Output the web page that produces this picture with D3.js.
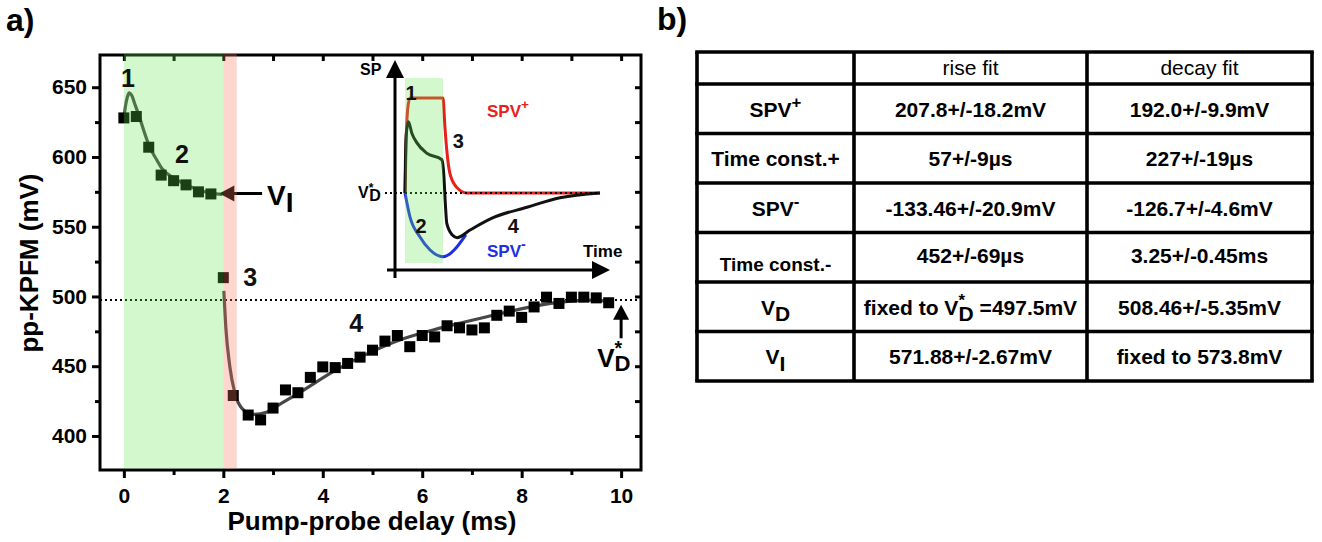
<!doctype html>
<html lang="en">
<head>
<meta charset="utf-8">
<title>pp-KPFM transient and fit table</title>
<script src="https://cdn.jsdelivr.net/npm/d3@7"></script>
<style>
  body { margin: 0; background: #fff; }
  svg { display: block; font-family: "Liberation Sans", Arial, sans-serif; font-weight: bold; }
</style>
</head>
<body>
<svg id="fig" width="1322" height="542"></svg>
<script>
// ---- data ----
var xTicks = [0, 2, 4, 6, 8, 10];
var xMinor = [1, 3, 5, 7, 9];
var yTicks = [400, 450, 500, 550, 600, 650];
var yMinor = [425, 475, 525, 575, 625];

// measured points (delay in ms, potential in mV)
var delay = [0, 0.25, 0.5, 0.75, 1.0, 1.25, 1.5, 1.75, 2.0, 2.2,
             2.5, 2.75, 3.0, 3.25, 3.5, 3.75, 4.0, 4.25, 4.5, 4.75,
             5.0, 5.25, 5.5, 5.75, 6.0, 6.25, 6.5, 6.75, 7.0, 7.25,
             7.5, 7.75, 8.0, 8.25, 8.5, 8.75, 9.0, 9.25, 9.5, 9.75];
var kpfm  = [628, 629, 607, 587, 583, 580, 575, 573.5, 513.5, 429,
             415, 411.5, 420, 433, 431, 442, 449.5, 449, 452, 456.5,
             461.5, 468, 472, 464, 472, 471, 479, 477.5, 476, 477.5,
             486.5, 489.5, 485, 492.5, 499.5, 495, 499.5, 499.5, 499, 495.5];

// fit curves as traced
var riseFit = [[0, 627], [0.03, 636], [0.07, 643], [0.11, 646], [0.16, 644], [0.22, 638],
               [0.3, 630], [0.4, 619], [0.52, 607], [0.66, 598], [0.76, 592], [1.0, 585],
               [1.26, 580], [1.53, 576], [1.86, 573.5], [1.98, 573.2]];
var decayFit = [[2.01, 504], [2.05, 478], [2.13, 450], [2.23, 431], [2.37, 420], [2.6, 415.5],
                [2.87, 417], [3.1, 422], [3.55, 431.5], [4.2, 446], [4.9, 459], [5.56, 469],
                [6.22, 476], [6.77, 481], [7.3, 485.5], [7.7, 488.8], [8.37, 493.8],
                [9.04, 496.8], [9.4, 497.4], [9.75, 496.5]];

var vDstar = 497.5;
var vI = 573.8;
var pumpBand = [0, 2.0];
var probeBand = [2.0, 2.27];

// inset sketch (time in pulse lengths, signal in % of SPV+)
var insetPlus  = [[0, 0], [0.03, 55], [0.07, 88], [0.13, 100], [1.0, 100], [1.05, 70], [1.1, 45],
                  [1.18, 21], [1.36, 6], [1.63, 0], [5.13, 0]];
var insetMinus = [[0, 0], [0.13, -25], [0.39, -46], [0.66, -60], [1.0, -67], [1.6, -44]];
var insetSum   = [[0, 0], [0.01, 30], [0.03, 60], [0.09, 75], [0.18, 63], [0.31, 53], [0.57, 42],
                  [0.97, 35], [1.02, 20], [1.06, -10], [1.1, -32], [1.24, -44], [1.37, -47],
                  [1.71, -39], [2.32, -26], [3.21, -15], [4.08, -5], [5.13, 0]];

// table b)
var tableHead = ["", "rise fit", "decay fit"];
var rowLabels = ["SPV^{+}", "Time const.+", "SPV^{-}", "Time const.-", "V_{D}", "V_{I}"];
var riseVals  = ["207.8+/-18.2mV", "57+/-9\u00b5s", "-133.46+/-20.9mV", "452+/-69\u00b5s",
                 "fixed to V^{*}_{D} =497.5mV", "571.88+/-2.67mV"];
var decayVals = ["192.0+/-9.9mV", "227+/-19\u00b5s", "-126.7+/-4.6mV", "3.25+/-0.45ms",
                 "508.46+/-5.35mV", "fixed to 573.8mV"];

// ---- drawing ----
var svg = d3.select("#fig");
svg.append("rect").attr("width", 1322).attr("height", 542).attr("fill", "#fff");

// text with ^{sup} and _{sub} pieces
function rich(t, str, size, opt) {
  opt = opt || {};
  var supK = opt.supK || 0.72, supUp = opt.supUp || 0.42, subDown = opt.subDown || 0.33;
  var subK = opt.subK || 1, back = opt.back || 0.38;
  var parts = str.split(/(\^\{[^}]*\}|_\{[^}]*\})/).filter(function(s) { return s.length; });
  var shift = 0, prevSup = false;
  parts.forEach(function(p) {
    var sp = t.append("tspan");
    if (p.indexOf("^{") == 0) {
      sp.text(p.slice(2, -1)).attr("font-size", size * supK).attr("dy", -size * supUp - shift);
      shift = -size * supUp; prevSup = true;
    } else if (p.indexOf("_{") == 0) {
      sp.text(p.slice(2, -1)).attr("font-size", size * subK).attr("dy", size * subDown - shift);
      if (prevSup) sp.attr("dx", -size * back);
      shift = size * subDown; prevSup = false;
    } else {
      sp.text(p).attr("dy", -shift);
      shift = 0; prevSup = false;
    }
  });
}

// panel letters
svg.append("text").attr("x", 6).attr("y", 31).attr("font-size", 32).text("a)");
svg.append("text").attr("x", 657).attr("y", 30).attr("font-size", 32).text("b)");

var x = d3.scaleLinear().domain([-0.48, 10.4]).range([100, 641]);
var y = d3.scaleLinear().domain([375.6, 673.1]).range([470, 55]);

var plot = svg.append("g");

// dotted V*D level
plot.append("line")
  .attr("x1", x.range()[0]).attr("x2", x.range()[1])
  .attr("y1", y(vDstar)).attr("y2", y(vDstar))
  .attr("stroke", "#000").attr("stroke-width", 2).attr("stroke-dasharray", "2,3");

var fitLine = d3.line().x(function(d) { return x(d[0]); }).y(function(d) { return y(d[1]); })
  .curve(d3.curveMonotoneX);
[riseFit, decayFit].forEach(function(f) {
  plot.append("path").attr("d", fitLine(f)).attr("fill", "none")
    .attr("stroke", "#474747").attr("stroke-width", 3.2);
});

plot.selectAll("rect.pt").data(delay).enter().append("rect")
  .attr("class", "pt")
  .attr("x", function(d) { return x(d) - 5.5; })
  .attr("y", function(d, i) { return y(kpfm[i]) - 5.5; })
  .attr("width", 11).attr("height", 11).attr("fill", "#000");

// arrows
function arrowHead(g, tipX, tipY, dir, len, half) {
  var pts;
  if (dir == "left") pts = [[tipX, tipY], [tipX + len, tipY - half], [tipX + len, tipY + half]];
  else pts = [[tipX, tipY], [tipX - half, tipY + len], [tipX + half, tipY + len]];
  g.append("polygon").attr("points", pts.map(function(p) { return p.join(","); }).join(" "))
    .attr("fill", "#000");
}
plot.append("line").attr("x1", x(1.92) + 12).attr("x2", x(2.78))
  .attr("y1", y(vI)).attr("y2", y(vI)).attr("stroke", "#000").attr("stroke-width", 3);
arrowHead(plot, x(1.92), y(vI), "left", 15, 8);
plot.append("line").attr("x1", x(10)).attr("x2", x(10))
  .attr("y1", y(494) + 12).attr("y2", y(470)).attr("stroke", "#000").attr("stroke-width", 3);
arrowHead(plot, x(10), y(494), "up", 15, 8);

// frame and axes
plot.append("rect").attr("x", 100).attr("y", 55).attr("width", 541).attr("height", 415)
  .attr("fill", "none").attr("stroke", "#000").attr("stroke-width", 3);

function styleAxis(g, fs) {
  g.select(".domain").remove();
  g.selectAll(".tick line").attr("stroke", "#000").attr("stroke-width", 3);
  g.selectAll(".tick text").attr("font-size", fs).attr("font-family", null)
    .attr("font-weight", "bold").attr("fill", "#000");
}
plot.append("g").attr("transform", "translate(0,470)")
  .call(d3.axisBottom(x).tickValues(xTicks).tickSize(8).tickPadding(10).tickSizeOuter(0))
  .call(styleAxis, 21);
plot.append("g").attr("transform", "translate(0,470)")
  .call(d3.axisBottom(x).tickValues(xMinor).tickSize(5).tickFormat("").tickSizeOuter(0))
  .call(styleAxis, 21);
plot.append("g").attr("transform", "translate(100,0)")
  .call(d3.axisLeft(y).tickValues(yTicks).tickSize(8).tickPadding(5).tickSizeOuter(0))
  .call(styleAxis, 21);
plot.append("g").attr("transform", "translate(100,0)")
  .call(d3.axisLeft(y).tickValues(yMinor).tickSize(5).tickFormat("").tickSizeOuter(0))
  .call(styleAxis, 21);
plot.append("g").attr("transform", "translate(0,55)")
  .call(d3.axisTop(x).tickValues(xTicks.concat(xMinor)).tickSize(-6).tickFormat("").tickSizeOuter(0))
  .call(styleAxis, 21);
plot.append("g").attr("transform", "translate(641,0)")
  .call(d3.axisRight(y).tickValues(yTicks.concat(yMinor)).tickSize(-6).tickFormat("").tickSizeOuter(0))
  .call(styleAxis, 21);

// translucent pump / probe bands over the data
plot.append("rect").attr("x", x(pumpBand[0])).attr("width", x(pumpBand[1]) - x(pumpBand[0]))
  .attr("y", 53.5).attr("height", 415).attr("fill", "rgb(100,230,80)").attr("fill-opacity", 0.28);
plot.append("rect").attr("x", x(probeBand[0])).attr("width", x(probeBand[1]) - x(probeBand[0]))
  .attr("y", 53.5).attr("height", 415).attr("fill", "rgb(250,120,90)").attr("fill-opacity", 0.3);

// axis titles
svg.append("text").attr("x", 372).attr("y", 530).attr("text-anchor", "middle")
  .attr("font-size", 26).text("Pump-probe delay (ms)");
svg.append("text").attr("transform", "translate(38,263) rotate(-90)").attr("text-anchor", "middle")
  .attr("font-size", 26).text("pp-KPFM (mV)");

// stage labels
[["1", 0.08, 650], ["2", 1.17, 596], ["3", 2.54, 507.5], ["4", 4.67, 474.5]].forEach(function(l) {
  plot.append("text").attr("x", x(l[1])).attr("y", y(l[2])).attr("text-anchor", "middle")
    .attr("font-size", 25).attr("fill", "#111").text(l[0]);
});
var tVI = plot.append("text").attr("x", x(2.88)).attr("y", y(565.5)).attr("font-size", 28);
rich(tVI, "V_{I}", 28, { subDown: 0.25 });
var tVD = plot.append("text").attr("x", x(9.52)).attr("y", y(449.5)).attr("font-size", 26);
rich(tVD, "V^{*}_{D}", 26, { supK: 0.75, supUp: 0.45, subK: 0.85, subDown: 0.14, back: 0.3 });

// ---- inset ----
var ix = d3.scaleLinear().domain([0, 1]).range([405, 443]);
var iy = d3.scaleLinear().domain([0, 100]).range([193, 98]);
var ins = svg.append("g");
var iLine = d3.line().x(function(d) { return ix(d[0]); }).y(function(d) { return iy(d[1]); })
  .curve(d3.curveMonotoneX);

ins.append("path").attr("d", iLine(insetPlus)).attr("fill", "none")
  .attr("stroke", "#e8201a").attr("stroke-width", 3);
ins.append("path").attr("d", iLine(insetMinus)).attr("fill", "none")
  .attr("stroke", "#1c2fe6").attr("stroke-width", 3);
ins.append("path").attr("d", iLine(insetSum)).attr("fill", "none")
  .attr("stroke", "#111").attr("stroke-width", 3);
ins.append("line").attr("x1", 385).attr("x2", 600).attr("y1", iy(0)).attr("y2", iy(0))
  .attr("stroke", "#000").attr("stroke-width", 2).attr("stroke-dasharray", "2,3");

// inset axes with arrows
ins.append("line").attr("x1", 395).attr("x2", 395).attr("y1", 278).attr("y2", 76)
  .attr("stroke", "#000").attr("stroke-width", 3);
arrowHead(ins, 395, 60, "up", 18, 9);
ins.append("line").attr("x1", 387).attr("x2", 594).attr("y1", 270).attr("y2", 270)
  .attr("stroke", "#000").attr("stroke-width", 3);
ins.append("polygon").attr("points", "610,270 592,261 592,279").attr("fill", "#000");

ins.append("rect").attr("x", ix(0)).attr("width", ix(1) - ix(0)).attr("y", 78).attr("height", 185)
  .attr("fill", "rgb(100,230,80)").attr("fill-opacity", 0.28);

ins.append("text").attr("x", 360).attr("y", 75).attr("font-size", 16).text("SP");
ins.append("text").attr("x", 583).attr("y", 257).attr("font-size", 17).text("Time");
var tIV = ins.append("text").attr("x", 358).attr("y", 198).attr("font-size", 16);
rich(tIV, "V^{*}_{D}", 16, { supK: 0.75, supUp: 0.4, subDown: 0.2, back: 0.25 });
[["1", 0.16, 100 - 2], ["2", 0.42, -42], ["3", 1.4, 47.5], ["4", 2.85, -42]].forEach(function(l) {
  ins.append("text").attr("x", ix(l[1])).attr("y", iy(l[2])).attr("text-anchor", "middle")
    .attr("font-size", 20).attr("fill", "#111").text(l[0]);
});
var tP = ins.append("text").attr("x", 487).attr("y", 117).attr("font-size", 17).attr("fill", "#e8201a");
rich(tP, "SPV^{+}", 17, { supK: 0.8, supUp: 0.5 });
var tM = ins.append("text").attr("x", 487).attr("y", 257).attr("font-size", 17).attr("fill", "#1c2fe6");
rich(tM, "SPV^{-}", 17, { supK: 0.85, supUp: 0.45 });

// ---- table ----
var colX = [697, 854, 1087, 1312];
var rowY = [52, 84, 133.5, 183, 232.5, 282, 331.5, 381];
var tb = svg.append("g");
colX.forEach(function(cx) {
  tb.append("line").attr("x1", cx).attr("x2", cx).attr("y1", rowY[0]).attr("y2", rowY[rowY.length - 1])
    .attr("stroke", "#000").attr("stroke-width", 3.6);
});
rowY.forEach(function(ry) {
  tb.append("line").attr("x1", colX[0] - 1.8).attr("x2", colX[3] + 1.8).attr("y1", ry).attr("y2", ry)
    .attr("stroke", "#000").attr("stroke-width", 3.6);
});
function cellText(col, row, str, size, weight, extra) {
  var cx = (colX[col] + colX[col + 1]) / 2;
  var cy = (rowY[row] + rowY[row + 1]) / 2;
  var t = tb.append("text").attr("x", cx).attr("y", cy + 8 + (extra || 0))
    .attr("text-anchor", "middle").attr("font-size", size).attr("font-weight", weight);
  rich(t, str, size, { supK: 0.8, supUp: 0.42, subDown: 0.3, back: 0.3 });
}
tableHead.forEach(function(h, c) { if (h) cellText(c, 0, h, 21, "normal", -1); });
rowLabels.forEach(function(l, r) {
  var small = l == "Time const.-";
  cellText(0, r + 1, l, small ? 19 : 21, "bold", small ? 6 : 0);
});
riseVals.forEach(function(v, r) { cellText(1, r + 1, v, 21, "bold", r == 3 ? -2 : 0); });
decayVals.forEach(function(v, r) { cellText(2, r + 1, v, 21, "bold", r == 3 ? -2 : 0); });
</script>
</body>
</html>
